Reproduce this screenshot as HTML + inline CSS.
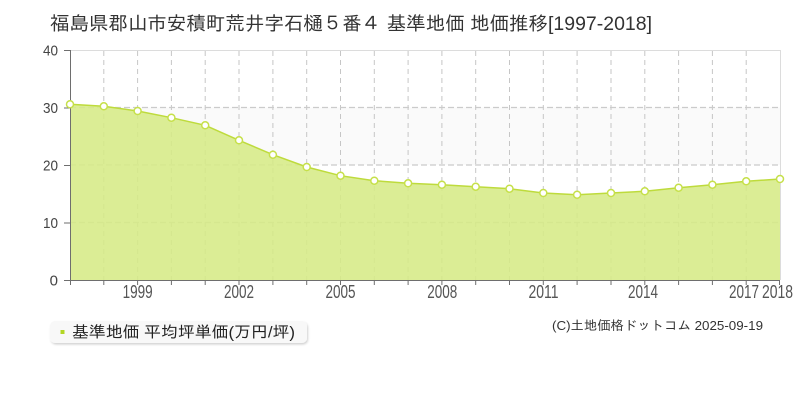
<!DOCTYPE html>
<html><head><meta charset="utf-8"><style>
html,body{margin:0;padding:0;background:#fff;width:800px;height:400px;overflow:hidden}
svg{display:block}
text{font-family:"Liberation Sans","IPAGothic",sans-serif}
</style></head><body>
<svg width="800" height="400" viewBox="0 0 800 400" xmlns="http://www.w3.org/2000/svg">
<defs>
<filter id="sh" x="-5%" y="-20%" width="110%" height="160%"><feDropShadow dx="1" dy="1.5" stdDeviation="1" flood-color="#000" flood-opacity="0.18"/></filter>
</defs>
<text x="50" y="30" font-size="19" fill="#333" textLength="602" lengthAdjust="spacingAndGlyphs">福島県郡山市安積町荒井字石樋５番４ 基準地価 地価推移[1997-2018]</text>
<!-- plot bg bands -->
<rect x="70" y="107.5" width="710" height="57.5" fill="#fafafa"/>
<rect x="70" y="222.5" width="710" height="57.5" fill="#fafafa"/>
<!-- border top/right -->
<line x1="70" y1="50.5" x2="780" y2="50.5" stroke="#dcdcdc" stroke-width="1"/>
<line x1="780.5" y1="50" x2="780.5" y2="280" stroke="#dcdcdc" stroke-width="1"/>
<!-- vertical grid -->
<g stroke="#c6c6c6" stroke-width="1" stroke-dasharray="5,4">
<line x1="103.8" y1="51" x2="103.8" y2="280"/><line x1="137.6" y1="51" x2="137.6" y2="280"/><line x1="171.4" y1="51" x2="171.4" y2="280"/><line x1="205.2" y1="51" x2="205.2" y2="280"/><line x1="239.0" y1="51" x2="239.0" y2="280"/><line x1="272.9" y1="51" x2="272.9" y2="280"/><line x1="306.7" y1="51" x2="306.7" y2="280"/><line x1="340.5" y1="51" x2="340.5" y2="280"/><line x1="374.3" y1="51" x2="374.3" y2="280"/><line x1="408.1" y1="51" x2="408.1" y2="280"/><line x1="441.9" y1="51" x2="441.9" y2="280"/><line x1="475.7" y1="51" x2="475.7" y2="280"/><line x1="509.5" y1="51" x2="509.5" y2="280"/><line x1="543.3" y1="51" x2="543.3" y2="280"/><line x1="577.1" y1="51" x2="577.1" y2="280"/><line x1="611.0" y1="51" x2="611.0" y2="280"/><line x1="644.8" y1="51" x2="644.8" y2="280"/><line x1="678.6" y1="51" x2="678.6" y2="280"/><line x1="712.4" y1="51" x2="712.4" y2="280"/><line x1="746.2" y1="51" x2="746.2" y2="280"/>
</g>
<!-- horizontal grid -->
<g stroke="#cbcbcb" stroke-width="1.2" stroke-dasharray="6,3">
<line x1="70" y1="107.5" x2="780" y2="107.5"/><line x1="70" y1="165" x2="780" y2="165"/><line x1="70" y1="222.5" x2="780" y2="222.5"/>
</g>
<!-- area -->
<polygon fill="#d6ea86" fill-opacity="0.88" points="70,104.3 103.8,106.3 137.6,111 171.4,117.7 205.2,125.3 239.0,140.3 272.9,154.7 306.7,167 340.5,175.7 374.3,180.7 408.1,183.3 441.9,184.7 475.7,186.7 509.5,188.7 543.3,193 577.1,194.7 611.0,193 644.8,191.3 678.6,187.7 712.4,184.7 746.2,181.3 780,179 780,280 70,280"/>
<polyline fill="none" stroke="#bedb3c" stroke-width="1.5" points="70,104.3 103.8,106.3 137.6,111 171.4,117.7 205.2,125.3 239.0,140.3 272.9,154.7 306.7,167 340.5,175.7 374.3,180.7 408.1,183.3 441.9,184.7 475.7,186.7 509.5,188.7 543.3,193 577.1,194.7 611.0,193 644.8,191.3 678.6,187.7 712.4,184.7 746.2,181.3 780,179"/>
<!-- axes -->
<line x1="70.5" y1="50" x2="70.5" y2="280" stroke="#6e6e6e" stroke-width="1"/>
<line x1="64" y1="280.5" x2="780" y2="280.5" stroke="#6e6e6e" stroke-width="1"/>
<g stroke="#6e6e6e" stroke-width="1">
<line x1="64" y1="50.5" x2="70" y2="50.5"/><line x1="64" y1="108" x2="70" y2="108"/><line x1="64" y1="165.5" x2="70" y2="165.5"/><line x1="64" y1="223" x2="70" y2="223"/>
<line x1="70.5" y1="280" x2="70.5" y2="285"/><line x1="103.8" y1="280" x2="103.8" y2="285"/><line x1="137.6" y1="280" x2="137.6" y2="285"/><line x1="171.4" y1="280" x2="171.4" y2="285"/><line x1="205.2" y1="280" x2="205.2" y2="285"/><line x1="239.0" y1="280" x2="239.0" y2="285"/><line x1="272.9" y1="280" x2="272.9" y2="285"/><line x1="306.7" y1="280" x2="306.7" y2="285"/><line x1="340.5" y1="280" x2="340.5" y2="285"/><line x1="374.3" y1="280" x2="374.3" y2="285"/><line x1="408.1" y1="280" x2="408.1" y2="285"/><line x1="441.9" y1="280" x2="441.9" y2="285"/><line x1="475.7" y1="280" x2="475.7" y2="285"/><line x1="509.5" y1="280" x2="509.5" y2="285"/><line x1="543.3" y1="280" x2="543.3" y2="285"/><line x1="577.1" y1="280" x2="577.1" y2="285"/><line x1="611.0" y1="280" x2="611.0" y2="285"/><line x1="644.8" y1="280" x2="644.8" y2="285"/><line x1="678.6" y1="280" x2="678.6" y2="285"/><line x1="712.4" y1="280" x2="712.4" y2="285"/><line x1="746.2" y1="280" x2="746.2" y2="285"/><line x1="779.5" y1="280" x2="779.5" y2="285"/>
</g>
<!-- markers -->
<g fill="#fff" stroke="#c6e04a" stroke-width="1.5">
<circle cx="70" cy="104.3" r="3.5"/><circle cx="103.8" cy="106.3" r="3.5"/><circle cx="137.6" cy="111" r="3.5"/><circle cx="171.4" cy="117.7" r="3.5"/><circle cx="205.2" cy="125.3" r="3.5"/><circle cx="239.0" cy="140.3" r="3.5"/><circle cx="272.9" cy="154.7" r="3.5"/><circle cx="306.7" cy="167" r="3.5"/><circle cx="340.5" cy="175.7" r="3.5"/><circle cx="374.3" cy="180.7" r="3.5"/><circle cx="408.1" cy="183.3" r="3.5"/><circle cx="441.9" cy="184.7" r="3.5"/><circle cx="475.7" cy="186.7" r="3.5"/><circle cx="509.5" cy="188.7" r="3.5"/><circle cx="543.3" cy="193" r="3.5"/><circle cx="577.1" cy="194.7" r="3.5"/><circle cx="611.0" cy="193" r="3.5"/><circle cx="644.8" cy="191.3" r="3.5"/><circle cx="678.6" cy="187.7" r="3.5"/><circle cx="712.4" cy="184.7" r="3.5"/><circle cx="746.2" cy="181.3" r="3.5"/><circle cx="780" cy="179" r="3.5"/>
</g>
<!-- y labels -->
<g font-size="15" fill="#444" text-anchor="end">
<text x="58" y="55.5" textLength="15" lengthAdjust="spacingAndGlyphs">40</text>
<text x="58" y="113" textLength="15" lengthAdjust="spacingAndGlyphs">30</text>
<text x="58" y="170.5" textLength="15" lengthAdjust="spacingAndGlyphs">20</text>
<text x="58" y="228" textLength="15" lengthAdjust="spacingAndGlyphs">10</text>
<text x="58" y="285.5">0</text>
</g>
<!-- x labels -->
<g font-size="18" fill="#555">
<text x="122.6" y="298" textLength="30" lengthAdjust="spacingAndGlyphs">1999</text>
<text x="224" y="298" textLength="30" lengthAdjust="spacingAndGlyphs">2002</text>
<text x="325.5" y="298" textLength="30" lengthAdjust="spacingAndGlyphs">2005</text>
<text x="427.3" y="298" textLength="30" lengthAdjust="spacingAndGlyphs">2008</text>
<text x="528.5" y="298" textLength="30" lengthAdjust="spacingAndGlyphs">2011</text>
<text x="628" y="298" textLength="30" lengthAdjust="spacingAndGlyphs">2014</text>
<text x="729" y="298" textLength="30" lengthAdjust="spacingAndGlyphs">2017</text>
<text x="762" y="298" textLength="31" lengthAdjust="spacingAndGlyphs">2018</text>
</g>
<!-- legend -->
<rect x="50" y="321" width="257" height="22" rx="5" ry="5" fill="#f8f8f8" filter="url(#sh)"/>
<rect x="60.5" y="330" width="4" height="4" fill="#b3d624"/>
<text x="72" y="337.5" font-size="16" fill="#222" textLength="223" lengthAdjust="spacingAndGlyphs">基準地価 平均坪単価(万円/坪)</text>
<!-- footer -->
<text x="552" y="330" font-size="13" fill="#333" textLength="211" lengthAdjust="spacingAndGlyphs">(C)土地価格ドットコム 2025-09-19</text>
</svg>
</body></html>
